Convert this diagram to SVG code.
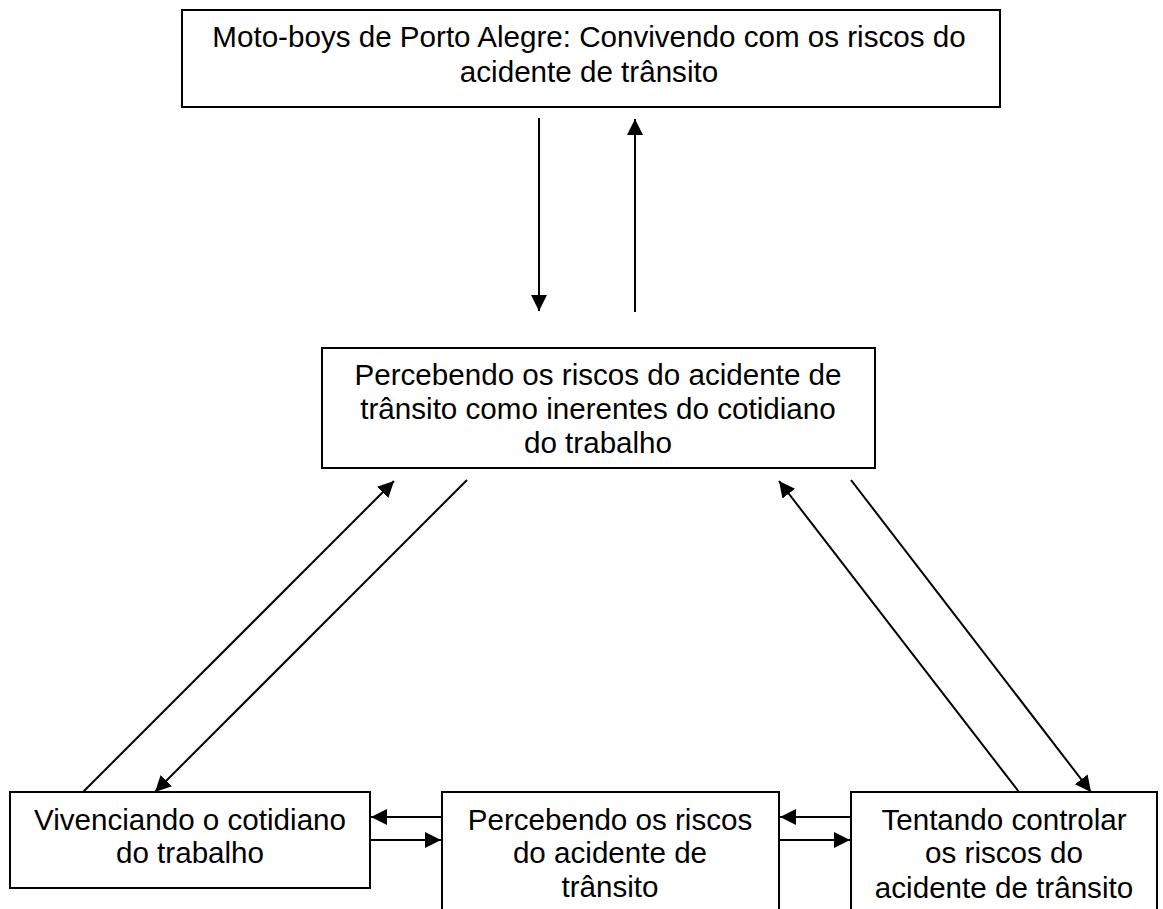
<svg xmlns="http://www.w3.org/2000/svg" width="1163" height="909" viewBox="0 0 1163 909">
<defs>
<marker id="ah" markerUnits="userSpaceOnUse" markerWidth="17" markerHeight="17" refX="16" refY="8" orient="auto">
<path d="M0,0 L16,8 L0,16 z" fill="#000"/>
</marker>
<style>
.box{fill:#fff;stroke:#000;stroke-width:2}
.t{font-family:"Liberation Sans",Arial,sans-serif;font-size:29.6px;fill:#000;text-anchor:middle}
.c{stroke:#000;stroke-width:2;fill:none;marker-end:url(#ah)}
</style>
</defs>
<rect width="1163" height="909" fill="#fff"/>
<g id="top">
<rect class="box" x="182" y="10" width="818" height="97"/>
<text class="t" x="589" y="47">Moto-boys de Porto Alegre: Convivendo com os riscos do</text>
<text class="t" x="589" y="82">acidente de trânsito</text>
</g>
<g id="middle">
<rect class="box" x="322" y="348" width="553" height="120"/>
<text class="t" x="598" y="385">Percebendo os riscos do acidente de</text>
<text class="t" x="598" y="419">trânsito como inerentes do cotidiano</text>
<text class="t" x="598" y="453">do trabalho</text>
</g>
<g id="left">
<rect class="box" x="10" y="792" width="360" height="96"/>
<text class="t" x="190" y="830">Vivenciando o cotidiano</text>
<text class="t" x="190" y="863">do trabalho</text>
</g>
<g id="center">
<rect class="box" x="442" y="792" width="337" height="130"/>
<text class="t" x="610" y="830">Percebendo os riscos</text>
<text class="t" x="610" y="863">do acidente de</text>
<text class="t" x="610" y="897">trânsito</text>
</g>
<g id="right">
<rect class="box" x="851" y="792" width="306" height="130"/>
<text class="t" x="1004" y="830">Tentando controlar</text>
<text class="t" x="1004" y="863">os riscos do</text>
<text class="t" x="1004" y="898">acidente de trânsito</text>
</g>
<g id="connectors">
<line class="c" x1="539" y1="118" x2="539" y2="311"/>
<line class="c" x1="635" y1="312" x2="635" y2="119"/>
<line class="c" x1="83" y1="792" x2="394" y2="481"/>
<line class="c" x1="467" y1="480" x2="155" y2="792"/>
<line class="c" x1="1019" y1="792" x2="779" y2="481"/>
<line class="c" x1="851" y1="480" x2="1091" y2="792"/>
<line class="c" x1="442" y1="817" x2="371" y2="817"/>
<line class="c" x1="370" y1="840" x2="441" y2="840"/>
<line class="c" x1="851" y1="817" x2="780" y2="817"/>
<line class="c" x1="779" y1="840" x2="850" y2="840"/>
</g>
</svg>
